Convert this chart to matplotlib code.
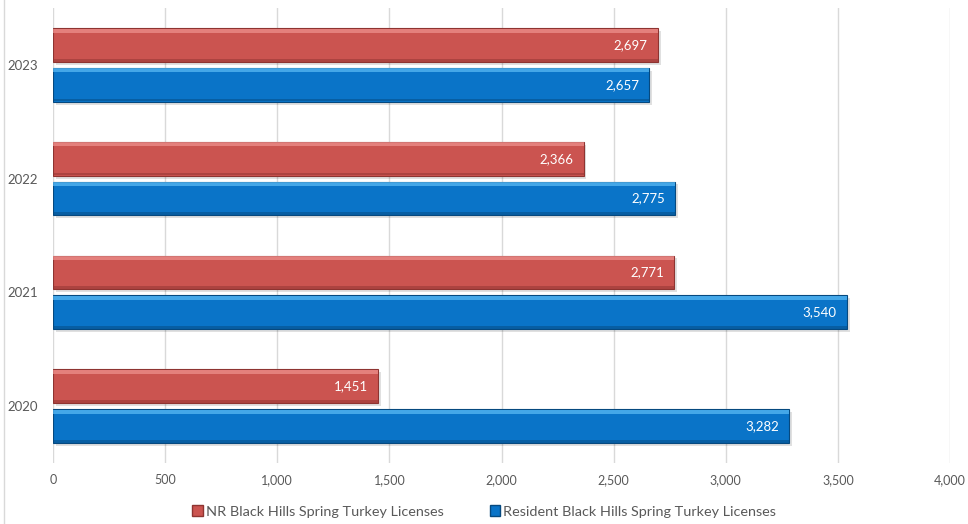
import matplotlib.pyplot as plt
import matplotlib.patches as mpatches
import numpy as np

years = ["2020", "2021", "2022", "2023"]
nr_licenses = [1451, 2771, 2366, 2697]
resident_licenses = [3282, 3540, 2775, 2657]
x_ticks = [0, 500, 1000, 1500, 2000, 2500, 3000, 3500, 4000]

plt.rcParams['font.family'] = ['Lato', 'DejaVu Sans']

fig = plt.figure(figsize=(9.68, 5.24), dpi=100)
ax = fig.add_axes([0.0548, 0.1164, 0.9267, 0.8683])

pos = np.arange(len(years))
h = 0.298
off = 0.175  # half distance between the two bar centres

red = "#CB5450"
blue = "#0A74C8"

def bevel_bars(centres, values, color, light, dark):
    # soft shadow
    ax.barh(centres - 0.025, values, height=h, left=12, color="#000000", alpha=0.12, zorder=2)
    ax.barh(centres, values, height=h, color=color, edgecolor=dark, linewidth=0.8, zorder=3)
    # top highlight and bottom darker strip
    ax.barh(centres + h / 2 - 0.022, values, height=0.035, color=light, alpha=0.7, zorder=4)
    ax.barh(centres - h / 2 + 0.015, values, height=0.025, color=dark, alpha=0.5, zorder=4)
    for c, v in zip(centres, values):
        ax.text(v - 45, c, f"{v:,}", ha="right", va="center", color="white",
                fontsize=9.5, zorder=5)

bevel_bars(pos + off, nr_licenses, red, "#F09390", "#8E3431")
bevel_bars(pos - off, resident_licenses, blue, "#5DBDF7", "#06497F")

ax.set_xlim(0, 4000)
ax.set_ylim(-0.5, 3.5)
ax.set_xticks(x_ticks)
ax.set_xticklabels([f"{t:,}" for t in x_ticks], fontsize=9, color="#595959")
ax.set_yticks(pos)
ax.set_yticklabels(years, fontsize=9.5, color="#595959")
ax.tick_params(axis="x", length=0, pad=8)
ax.tick_params(axis="y", length=0, pad=11)
ax.grid(axis="x", color="#D9D9D9", linewidth=1)
ax.set_axisbelow(True)
for s in ax.spines.values():
    s.set_visible(False)

# legend
handles = [mpatches.Patch(facecolor=red, edgecolor="#8E3431", label="NR Black Hills Spring Turkey Licenses"),
           mpatches.Patch(facecolor=blue, edgecolor="#06497F", label="Resident Black Hills Spring Turkey Licenses")]
fig.legend(handles=handles, loc="center", bbox_to_anchor=(0.5, 0.024), ncol=2, frameon=False,
           fontsize=10.4, labelcolor="#595959", handlelength=0.75, handleheight=0.75,
           handletextpad=0.2, columnspacing=3.2)

# chart border on the left
fig.add_artist(plt.Line2D([0.004, 0.004], [0, 1], color="#D9D9D9", linewidth=1))

fig.savefig("out.png", dpi=100)
